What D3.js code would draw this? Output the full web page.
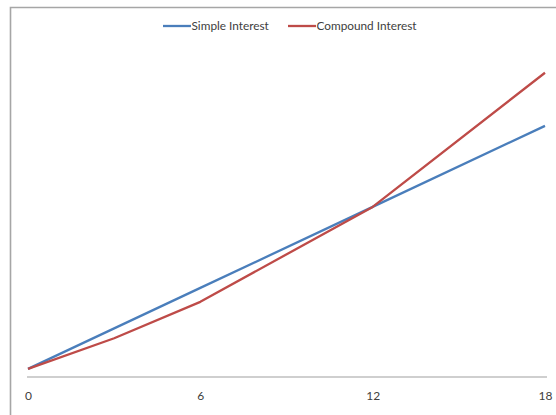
<!DOCTYPE html>
<html>
<head>
<meta charset="utf-8">
<script src="https://cdn.jsdelivr.net/npm/d3@7"></script>
<style>
  html, body { margin: 0; padding: 0; background: #fff; }
  svg { display: block; }
  text { font-family: Lato, "Open Sans", sans-serif; fill: #404040; }
</style>
</head>
<body>
<svg id="chart" width="556" height="415"></svg>
<script>
// Growth of 1000 over 18 years: simple vs. compound interest
const years = [0, 3, 6, 12, 18];
const simpleInterest = [1000, 1250, 1500, 2000, 2500];
const compoundInterest = [1000, 1189, 1414, 2000, 2828];
const xTicks = [0, 6, 12, 18];
const seriesNames = ["Simple Interest", "Compound Interest"];
const seriesColors = ["#4a7ebb", "#be4b48"];

const svg = d3.select("#chart");

// chart frame
svg.append("path")
  .attr("d", "M10.5,420 V7.5 H560")
  .attr("fill", "none")
  .attr("stroke", "#a6a6a6")
  .attr("stroke-width", 1.6);

const x = d3.scaleLinear().domain([0, 18]).range([28, 545]);
const y = d3.scaleLinear().domain([950, 3000]).range([377, 44.9]);

// category axis
const xAxis = d3.axisBottom(x).tickValues(xTicks).tickSize(0).tickPadding(14)
  .tickFormat(d3.format("d"));
const gx = svg.append("g").attr("transform", `translate(0,${y(950)})`).call(xAxis);
gx.select(".domain").attr("stroke", "#bfbfbf").attr("stroke-width", 1.5)
  .attr("d", `M${x(0) - 1},0H${x(18) + 2}`);
gx.selectAll("text").attr("font-size", 12).attr("fill", "#404040")
  .style("font-family", "Lato, 'Open Sans', sans-serif");

const line = d3.line().x((d, i) => x(years[i])).y(d => y(d));

[simpleInterest, compoundInterest].forEach((vals, k) => {
  svg.append("path")
    .datum(vals)
    .attr("d", line)
    .attr("fill", "none")
    .attr("stroke", seriesColors[k])
    .attr("stroke-width", 2.3)
    .attr("stroke-linejoin", "round");
});

// legend
const legendX = [163, 288];
const legend = svg.append("g");
seriesNames.forEach((name, k) => {
  legend.append("line")
    .attr("x1", legendX[k]).attr("x2", legendX[k] + 28)
    .attr("y1", 26).attr("y2", 26)
    .attr("stroke", seriesColors[k]).attr("stroke-width", 2.3);
  legend.append("text")
    .attr("x", legendX[k] + 28.5).attr("y", 30)
    .attr("font-size", 11.8)
    .text(name);
});
</script>
</body>
</html>
